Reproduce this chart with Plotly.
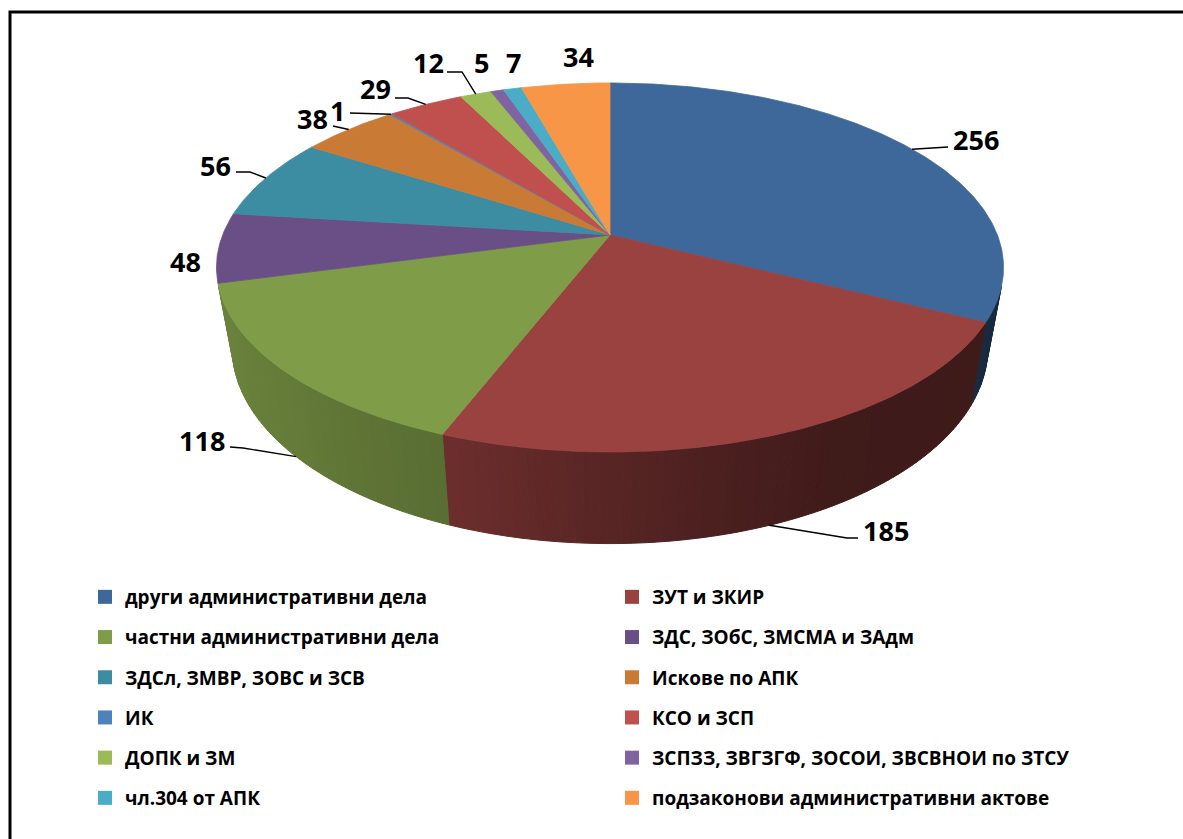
import numpy as np
import plotly.graph_objects as go

# ---------------- data ----------------
categories = [
    "други административни дела",
    "ЗУТ и ЗКИР",
    "частни административни дела",
    "ЗДС, ЗОбС, ЗМСМА и ЗАдм",
    "ЗДСл, ЗМВР, ЗОВС и ЗСВ",
    "Искове по АПК",
    "ИК",
    "КСО и ЗСП",
    "ДОПК и ЗМ",
    "ЗСПЗЗ, ЗВГЗГФ, ЗОСОИ, ЗВСВНОИ по ЗТСУ",
    "чл.304 от АПК",
    "подзаконови административни актове",
]
values = [256, 185, 118, 48, 56, 38, 1, 29, 12, 5, 7, 34]
colors = [
    "#3F689A", "#9A4240", "#7F9C48", "#6A4F87", "#3C8CA2", "#C97B36",
    "#4F81BD", "#C0504D", "#9BBB59", "#8064A2", "#4BACC6", "#F79646",
]

# ---------------- 3D pie geometry (pixel-like axis space) ----------------
W, H = 1183, 839
CX, CY = 610.0, 235.0          # projected pie centre (top face)
A, B, K = 387.4, 178.8, 0.176  # top-face perspective projection
CYB, AB, BB = 313.0, 371.9, 190.0  # bottom-face projection

def top_pt(deg):
    t = np.radians(deg)
    u, v = np.sin(t), np.cos(t)
    w = 1 + K * v
    return CX + A * u / w, CY - B * v / w

def bot_pt(deg):
    t = np.radians(deg)
    u, v = np.sin(t), np.cos(t)
    w = 1 + K * v
    return CX + AB * u / w, CYB - BB * v / w

def hex2rgb(h):
    h = h.lstrip("#")
    return [int(h[i:i + 2], 16) for i in (0, 2, 4)]

def shade(h, f):
    r, g, b = hex2rgb(h)
    return "rgb(%d,%d,%d)" % (r * f, g * f, b * f)

def quad_area(s0, s1):
    x0, y0 = top_pt(s0)
    x1, y1 = top_pt(s1)
    x2, y2 = bot_pt(s1)
    x3, y3 = bot_pt(s0)
    xs = [x0, x1, x2, x3]
    ys = [y0, y1, y2, y3]
    return 0.5 * sum(xs[j] * ys[(j + 1) % 4] - xs[(j + 1) % 4] * ys[j] for j in range(4))

# side lighting factor versus angle (clockwise from top)
SH_ANG = [90, 150, 168, 180, 200, 230, 270]
SH_F = [0.40, 0.41, 0.50, 0.57, 0.70, 0.80, 0.87]

total = float(sum(values))
bounds = np.concatenate([[0.0], np.cumsum(values) / total * 360.0])

fig = go.Figure()

# side walls: keep only front-facing strips (back-face culling)
front_sign = np.sign(quad_area(179.5, 180.5))
for i, c in enumerate(colors):
    a, b = max(bounds[i], 80.0), min(bounds[i + 1], 280.0)
    if a >= b:
        continue
    n = max(1, int(np.ceil((b - a) / 1.0)))
    edges = np.linspace(a, b, n + 1)
    for s0, s1 in zip(edges[:-1], edges[1:]):
        if np.sign(quad_area(s0, s1)) != front_sign:
            continue
        arc = np.linspace(s0, s1, 4)
        tx, ty = top_pt(arc)
        bx, by = bot_pt(arc[::-1])
        xs = list(tx) + list(bx) + [tx[0]]
        ys = list(ty) + list(by) + [ty[0]]
        col = shade(c, float(np.interp((s0 + s1) / 2, SH_ANG, SH_F)))
        fig.add_trace(go.Scatter(x=xs, y=ys, fill="toself", fillcolor=col,
                                 mode="lines", line=dict(color=col, width=1),
                                 hoverinfo="skip", showlegend=False))

# top faces
for i, c in enumerate(colors):
    n = max(2, int(np.ceil((bounds[i + 1] - bounds[i]) / 0.5)) + 1)
    arc = np.linspace(bounds[i], bounds[i + 1], n)
    tx, ty = top_pt(arc)
    xs = [CX] + list(tx) + [CX]
    ys = [CY] + list(ty) + [CY]
    fig.add_trace(go.Scatter(x=xs, y=ys, fill="toself", fillcolor=c,
                             mode="lines", line=dict(color=c, width=0.8),
                             name=categories[i], hoverinfo="name+text",
                             text=str(values[i]), showlegend=False))

# ---------------- data labels with leader lines ----------------
# label centre and leader-line points (layout only)
LABEL_LAYOUT = {
    0: ((976, 139), [(948, 147)]),
    1: ((886, 530), [(858, 538), (847, 538)]),
    2: ((202, 440), [(230, 447), (243, 448)]),
    3: ((185, 261), None),
    4: ((215, 165), [(236, 172), (250, 172)]),
    5: ((312, 118), [(333, 126)]),
    6: ((337, 110), [(350, 113)]),
    7: ((375, 88), [(395, 98), (408, 98)]),
    8: ((428, 62), [(447, 72), (462, 72)]),
    9: ((481, 62), None),
    10: ((513, 62), None),
    11: ((578, 56), None),
}

vis_lo = np.degrees(np.arccos(-K))
vis_hi = 360.0 - vis_lo
annotations = []
for i, v in enumerate(values):
    (lx, ly), path = LABEL_LAYOUT[i]
    mid = (bounds[i] + bounds[i + 1]) / 2
    if vis_lo < mid < vis_hi:
        ax_, ay_ = bot_pt(mid)
    else:
        ax_, ay_ = top_pt(mid)
    if path:
        px = [p[0] for p in path] + [float(ax_)]
        py = [p[1] for p in path] + [float(ay_)]
        fig.add_trace(go.Scatter(x=px, y=py, mode="lines",
                                 line=dict(color="black", width=1.4),
                                 hoverinfo="skip", showlegend=False))
    annotations.append(dict(x=lx, y=ly, xref="x", yref="y", text=str(v),
                            showarrow=False, xanchor="center", yanchor="middle",
                            font=dict(family="Open Sans", size=27, color="black",
                                      weight="bold")))

# ---------------- legend entries ----------------
for i, c in enumerate(colors):
    fig.add_trace(go.Scatter(x=[None], y=[None], mode="markers",
                             marker=dict(symbol="square", size=14, color=c),
                             name=categories[i], legendgroup="g%d" % i,
                             legend="legend" if i % 2 == 0 else "legend2"))

leg_common = dict(orientation="v", yanchor="top", xanchor="left",
                  tracegroupgap=12.5, bgcolor="rgba(0,0,0,0)", borderwidth=0,
                  traceorder="grouped",
                  font=dict(family="Open Sans", size=19, color="black", weight="bold"))

fig.update_layout(
    width=W, height=H, autosize=False,
    margin=dict(l=0, r=0, t=0, b=0),
    paper_bgcolor="white", plot_bgcolor="white",
    xaxis=dict(range=[0, W], visible=False, fixedrange=True),
    yaxis=dict(range=[H, 0], visible=False, fixedrange=True),
    legend=dict(x=85 / W, y=1 - 578 / H, **leg_common),
    legend2=dict(x=612 / W, y=1 - 578 / H, **leg_common),
    annotations=annotations,
    shapes=[dict(type="rect", xref="x", yref="y", x0=10, y0=12, x1=1215, y1=870,
                 line=dict(color="black", width=3), fillcolor="rgba(0,0,0,0)",
                 layer="above")],
    showlegend=True,
)

fig.write_html("out.html", config={"displayModeBar": False},
               post_script="document.body.style.margin='0px';")
